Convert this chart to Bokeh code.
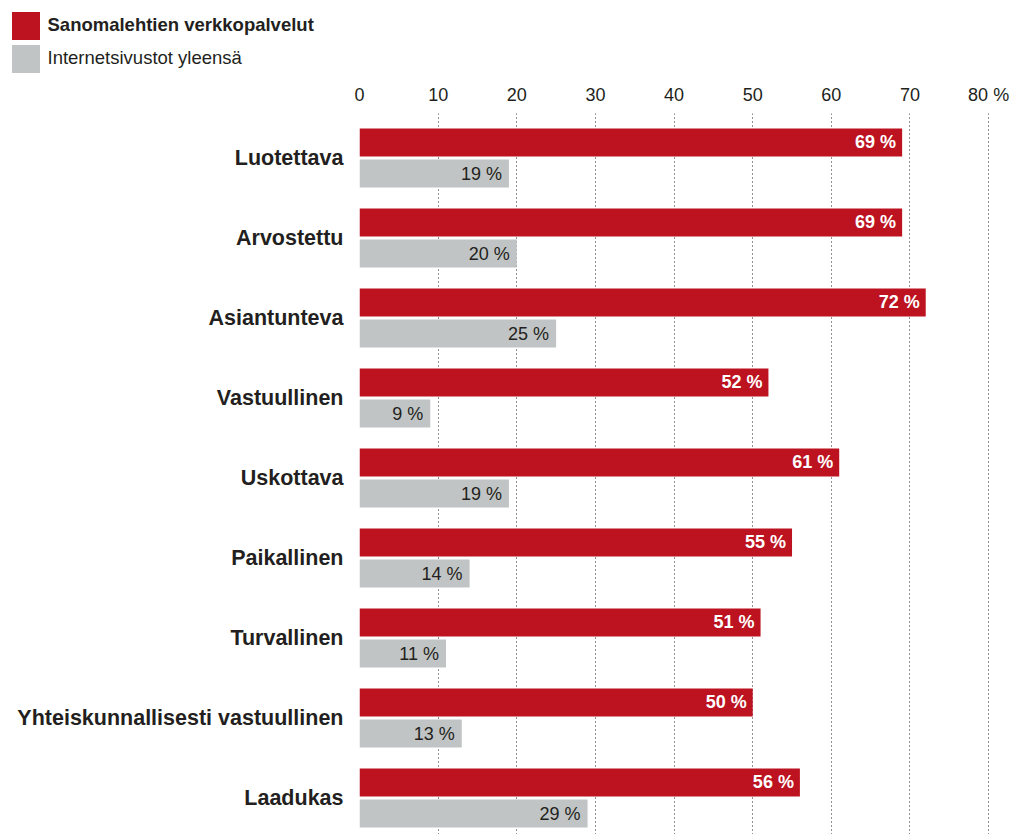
from bokeh.plotting import figure
from bokeh.layouts import column
from bokeh.models import Range1d, FixedTicker, ColumnDataSource, Legend, LegendItem
from bokeh.transform import dodge
from bokeh.core.properties import value
from bokeh.embed import file_html
from bokeh.resources import INLINE

categories = ["Luotettava", "Arvostettu", "Asiantunteva", "Vastuullinen", "Uskottava",
              "Paikallinen", "Turvallinen", "Yhteiskunnallisesti vastuullinen", "Laadukas"]
newspaper = [69, 69, 72, 52, 61, 55, 51, 50, 56]
internet = [19, 20, 25, 9, 19, 14, 11, 13, 29]
series_names = ["Sanomalehtien verkkopalvelut", "Internetsivustot yleensä"]
x_ticks = [0, 10, 20, 30, 40, 50, 60, 70, 80]
x_tick_labels = ["0", "10", "20", "30", "40", "50", "60", "70", "80 %"]

RED = "#BD1220"
GRAY = "#C1C4C4"
DARK = "#231F20"
FONT = "Liberation Sans"

pos = [i + 0.5 for i in range(len(categories))]
src = ColumnDataSource(dict(
    pos=pos,
    news=newspaper,
    inet=internet,
    news_lbl=[f"{v} %" for v in newspaper],
    inet_lbl=[f"{v} %" for v in internet],
))

OFF = 0.194
H = 0.35

# ---------- legend strip ----------
LEG_H = 76
pl = figure(width=1010, height=LEG_H, output_backend="svg", toolbar_location=None,
            x_range=Range1d(0, 1), y_range=Range1d(0, 1),
            x_axis_type=None, y_axis_type=None,
            min_border_left=0, min_border_right=0, min_border_top=0, min_border_bottom=0)
pl.frame_align = False
pl.outline_line_color = None
pl.xgrid.visible = False
pl.ygrid.visible = False
# swatch renderers for the legend only (kept outside the visible range)
swatch = ColumnDataSource(dict(y=[-5], right=[-4]))
d1 = pl.hbar(y="y", right="right", left=-5, height=0.1, source=swatch,
             fill_color=RED, line_color=None)
d2 = pl.hbar(y="y", right="right", left=-5, height=0.1, source=swatch,
             fill_color=GRAY, line_color=None)

GS = 35  # legend glyph box (area swatch drawn at 80 % of it)


def make_legend(label, rend, loc, style):
    return Legend(items=[LegendItem(label=label, renderers=[rend])],
                  location=loc, orientation="vertical",
                  glyph_width=GS, glyph_height=GS, label_height=GS, label_standoff=5,
                  padding=0, margin=0, spacing=0, border_line_color=None,
                  background_fill_alpha=0,
                  label_text_font=FONT, label_text_font_size="18.5px",
                  label_text_font_style=style, label_text_color=DARK)


pl.add_layout(make_legend(series_names[0], d1, (7.5, LEG_H - 42.5), "bold"), "center")
pl.add_layout(make_legend(series_names[1], d2, (7.5, LEG_H - 75.5), "normal"), "center")

# ---------- main chart ----------
p = figure(width=1010, height=834 - LEG_H, output_backend="svg", toolbar_location=None,
           x_range=Range1d(0, 81), y_range=Range1d(8.956, -0.056),
           x_axis_location="above",
           min_border_left=359, min_border_right=14, min_border_top=113 - LEG_H,
           min_border_bottom=0)
p.frame_align = False
p.outline_line_color = None
p.background_fill_color = "white"

r1 = p.hbar(y=dodge("pos", -OFF), right="news", left=0, height=H, source=src,
            fill_color=RED, line_color=None)
r2 = p.hbar(y=dodge("pos", OFF), right="inet", left=0, height=H, source=src,
            fill_color=GRAY, line_color=None)

p.text(x="news", y=dodge("pos", -OFF), text="news_lbl", source=src, x_offset=-6,
       text_align="right", text_baseline="middle", text_color="white",
       text_font=value(FONT), text_font_style="bold", text_font_size="18px")
p.text(x="inet", y=dodge("pos", OFF), text="inet_lbl", source=src, x_offset=-7,
       text_align="right", text_baseline="middle", text_color=DARK,
       text_font=value(FONT), text_font_size="18px")

xa = p.xaxis[0]
xa.ticker = FixedTicker(ticks=x_ticks)
xa.major_label_overrides = {t: l for t, l in zip(x_ticks, x_tick_labels)}
xa.axis_line_color = None
xa.major_tick_line_color = None
xa.minor_tick_line_color = None
xa.major_tick_out = 0
xa.major_tick_in = 0
xa.minor_tick_out = 0
xa.major_label_standoff = 9
xa.major_label_text_font = FONT
xa.major_label_text_font_size = "18px"
xa.major_label_text_color = DARK

ya = p.yaxis[0]
ya.ticker = FixedTicker(ticks=pos)
ya.major_label_overrides = {t: c for t, c in zip(pos, categories)}
ya.axis_line_color = None
ya.major_tick_line_color = None
ya.minor_tick_line_color = None
ya.major_tick_out = 0
ya.major_tick_in = 0
ya.minor_tick_out = 0
ya.major_label_standoff = 16
ya.major_label_text_font = FONT
ya.major_label_text_font_size = "21.5px"
ya.major_label_text_font_style = "bold"
ya.major_label_text_color = DARK

p.xgrid.ticker = FixedTicker(ticks=x_ticks)
p.xgrid.grid_line_color = "#222222"
p.xgrid.grid_line_dash = "1 3"
p.xgrid.grid_line_width = 1
p.ygrid.grid_line_color = None

layout = column(pl, p, spacing=0)
open("out.html", "w").write(file_html(layout, INLINE))
